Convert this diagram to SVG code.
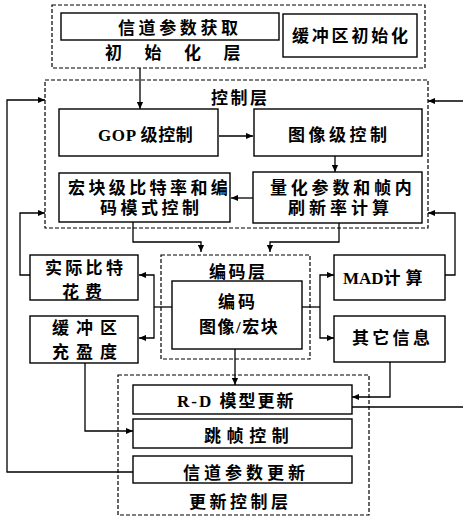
<svg xmlns="http://www.w3.org/2000/svg" width="463" height="517" viewBox="0 0 463 517">
<defs>
<marker id="ah" viewBox="0 0 8 8" refX="8" refY="4" markerWidth="7" markerHeight="7" markerUnits="userSpaceOnUse" orient="auto">
<path d="M0,0.5 L8,4 L0,7.5 Z" fill="#000"/>
</marker>
</defs>
<style>
.box{fill:#fff;stroke:#000;stroke-width:1.4}
.layer{fill:none;stroke:#000;stroke-width:1.2;stroke-dasharray:4 2}
.c{fill:none;stroke:#000;stroke-width:1.3}
.a{marker-end:url(#ah)}
text{font-family:"Liberation Serif","Noto Sans CJK SC",serif;font-size:17px;font-weight:bold;fill:#000}
</style>
<rect width="463" height="517" fill="#fff"/>
<g id="layer-init">
<rect class="layer" x="52" y="5" width="373" height="63"/>
<text x="105" y="59" style="letter-spacing:22.5px">初始化层</text>
</g>
<g id="layer-control">
<rect class="layer" x="45" y="80" width="383" height="148"/>
<text x="211" y="104" style="letter-spacing:2.5px">控制层</text>
</g>
<g id="layer-encode">
<rect class="layer" x="161" y="255" width="149" height="104"/>
<text x="209" y="278" style="letter-spacing:2.5px">编码层</text>
</g>
<g id="layer-update">
<rect class="layer" x="118" y="375" width="251" height="140"/>
<text x="189" y="508" style="letter-spacing:3.5px">更新控制层</text>
</g>
<g id="n-channel-get">
<rect class="box" x="61" y="13" width="218" height="27"/>
<text x="118" y="34" style="letter-spacing:3.6px">信道参数获取</text>
</g>
<g id="n-buffer-init">
<rect class="box" x="283" y="14" width="134" height="43"/>
<text x="292" y="42" style="letter-spacing:2.8px">缓冲区初始化</text>
</g>
<g id="n-gop">
<rect class="box" x="59" y="109" width="159" height="47"/>
<text x="98" y="141" style="letter-spacing:0.6px">GOP 级控制</text>
</g>
<g id="n-picture">
<rect class="box" x="254" y="109" width="168" height="47"/>
<text x="288" y="141" style="letter-spacing:3.5px">图像级控制</text>
</g>
<g id="n-mb">
<rect class="box" x="59" y="173" width="171" height="49"/>
<text x="68" y="194" style="letter-spacing:3.4px">宏块级比特率和编</text>
<text x="100" y="214" style="letter-spacing:3.5px">码模式控制</text>
</g>
<g id="n-qp">
<rect class="box" x="253" y="172" width="169" height="51"/>
<text x="270" y="194" style="letter-spacing:3.8px">量化参数和帧内</text>
<text x="288" y="214" style="letter-spacing:4px">刷新率计算</text>
</g>
<g id="n-actual">
<rect class="box" x="30" y="255" width="108" height="45"/>
<text x="45" y="274" style="letter-spacing:3.3px">实际比特</text>
<text x="62" y="298" style="letter-spacing:6px">花费</text>
</g>
<g id="n-buffer">
<rect class="box" x="30" y="316" width="108" height="47"/>
<text x="52" y="334" style="letter-spacing:7px">缓冲区</text>
<text x="52" y="358" style="letter-spacing:7px">充盈度</text>
</g>
<g id="n-encode">
<rect class="box" x="172" y="281" width="130" height="68"/>
<text x="218" y="308" style="letter-spacing:3px">编码</text>
<text x="199" y="333" style="letter-spacing:1.5px">图像/宏块</text>
</g>
<g id="n-mad">
<rect class="box" x="334" y="255" width="111" height="45"/>
<text x="343" y="284">MAD<tspan style="letter-spacing:5px">计算</tspan></text>
</g>
<g id="n-other">
<rect class="box" x="334" y="316" width="111" height="46"/>
<text x="352" y="344" style="letter-spacing:3.3px">其它信息</text>
</g>
<g id="n-rd">
<rect class="box" x="133" y="385" width="219" height="29"/>
<text x="177" y="407" style="letter-spacing:2px">R-D 模型更新</text>
</g>
<g id="n-skip">
<rect class="box" x="133" y="419" width="219" height="29"/>
<text x="204" y="442" style="letter-spacing:5.6px">跳帧控制</text>
</g>
<g id="n-channel-upd">
<rect class="box" x="133" y="456" width="219" height="27"/>
<text x="183" y="479" style="letter-spacing:4px">信道参数更新</text>
</g>
<g id="connectors">
<path class="c a" d="M140 68 V109"/>
<path class="c a" d="M219 136 H253"/>
<path class="c a" d="M335 156 V172"/>
<path class="c a" d="M253 198 H231"/>
<path class="c a" d="M133 222 V242 H201 V252"/>
<path class="c a" d="M339 223 V242 H270 V252"/>
<path class="c a" d="M133 472 H7 V100 H45"/>
<path class="c a" d="M30 275 H20 V213 H45"/>
<path class="c a" d="M463 101 H428"/>
<path class="c a" d="M445 275 H455 V213 H428"/>
<path class="c" d="M172 307 H154"/>
<path class="c a" d="M154 307 V275 H139"/>
<path class="c a" d="M154 307 V338 H139"/>
<path class="c" d="M302 307 H320"/>
<path class="c a" d="M320 307 V275 H334"/>
<path class="c a" d="M320 307 V338 H334"/>
<path class="c a" d="M235 349 V385"/>
<path class="c a" d="M390 362 V397 H352"/>
<path class="c" d="M352 407 H463"/>
<path class="c a" d="M85 363 V431 H133"/>
</g>
</svg>
